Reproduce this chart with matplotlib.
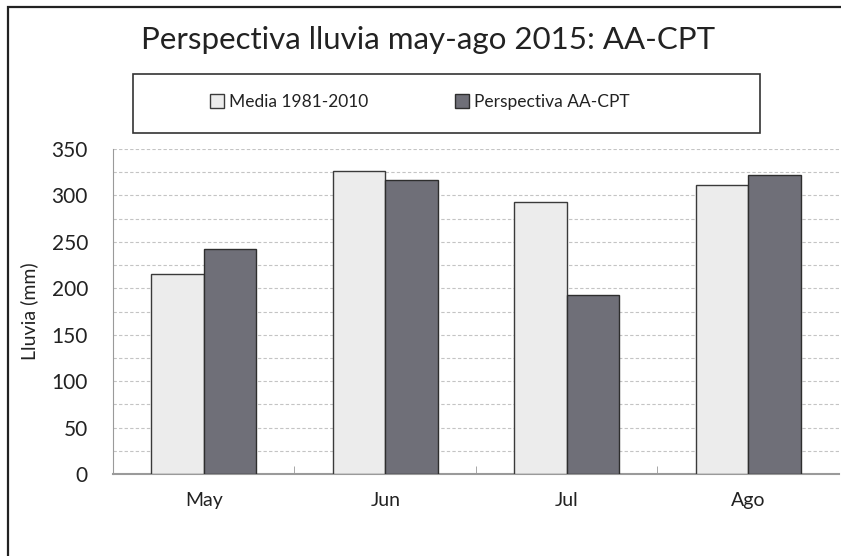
import matplotlib.pyplot as plt
import matplotlib.patches as mpatches
import numpy as np

meses = ["May", "Jun", "Jul", "Ago"]
media = [215, 326, 293, 311]
perspectiva = [242, 317, 193, 322]
nombres = ["Media 1981-2010", "Perspectiva AA-CPT"]

plt.rcParams["font.family"] = ["Lato", "DejaVu Sans"]

W, H = 841, 556
fig = plt.figure(figsize=(W / 100, H / 100), dpi=100)
ax = fig.add_axes([113 / W, 1 - 474 / H, (839 - 113) / W, (474 - 149) / H])

x = np.arange(len(meses))
ancho = 0.29
b1 = ax.bar(x - ancho / 2, media, ancho, color="#ececec", edgecolor="#3a3a3a",
            linewidth=1.0, label=nombres[0], zorder=3)
b2 = ax.bar(x + ancho / 2, perspectiva, ancho, color="#6f6f78", edgecolor="#2e2e2e",
            linewidth=1.0, label=nombres[1], zorder=3)

ax.set_xlim(-0.5, len(meses) - 0.5)
ax.set_ylim(0, 350)
ax.set_yticks(range(0, 351, 50))
ax.set_yticks(range(0, 351, 25), minor=True)
ax.set_xticks(x)
ax.set_xticklabels(meses)
ax.set_xticks(np.arange(0.5, len(meses) - 0.5, 1), minor=True)
ax.tick_params(axis="x", which="major", length=0, pad=13, labelsize=14, labelcolor="#222222")
ax.tick_params(axis="x", which="minor", direction="in", length=6, color="#999999")
ax.tick_params(axis="y", which="both", direction="in", length=0, labelsize=15,
               labelcolor="#222222", pad=18)
ax.grid(axis="y", which="both", linestyle=(0, (3, 2)), color="#c4c4c4", linewidth=0.8, zorder=0)

for lado in ["top", "right"]:
    ax.spines[lado].set_visible(False)
ax.spines["left"].set_color("#9a9a9a")
ax.spines["bottom"].set_color("#9a9a9a")
ax.spines["bottom"].set_linewidth(1.5)

ax.set_ylabel("Lluvia (mm)", fontsize=14, color="#222222", labelpad=10)

fig.text(428 / W, 1 - 40 / H, "Perspectiva lluvia may-ago 2015: AA-CPT",
         ha="center", va="center", fontsize=22.5, color="#222222")

# recuadro de la leyenda
caja = mpatches.Rectangle((133 / W, 1 - 133 / H), (760 - 133) / W, 59 / H,
                          transform=fig.transFigure, fill=False,
                          edgecolor="#333333", linewidth=1.2)
fig.patches.append(caja)
fig.legend(handles=[b1, b2], labels=nombres, loc="center",
           bbox_to_anchor=(420 / W, 1 - 102 / H), ncol=2, frameon=False,
           fontsize=12.5, handlelength=0.8, handleheight=0.8, handletextpad=0.3,
           columnspacing=5.0, labelcolor="#222222")

# marco exterior (recortado a la derecha y abajo)
marco = mpatches.Rectangle((8 / W, -0.05), 1.1, 1 - 7 / H + 0.05,
                           transform=fig.transFigure, fill=False,
                           edgecolor="#222222", linewidth=1.6)
fig.patches.append(marco)

plt.savefig("out.png", dpi=100)
